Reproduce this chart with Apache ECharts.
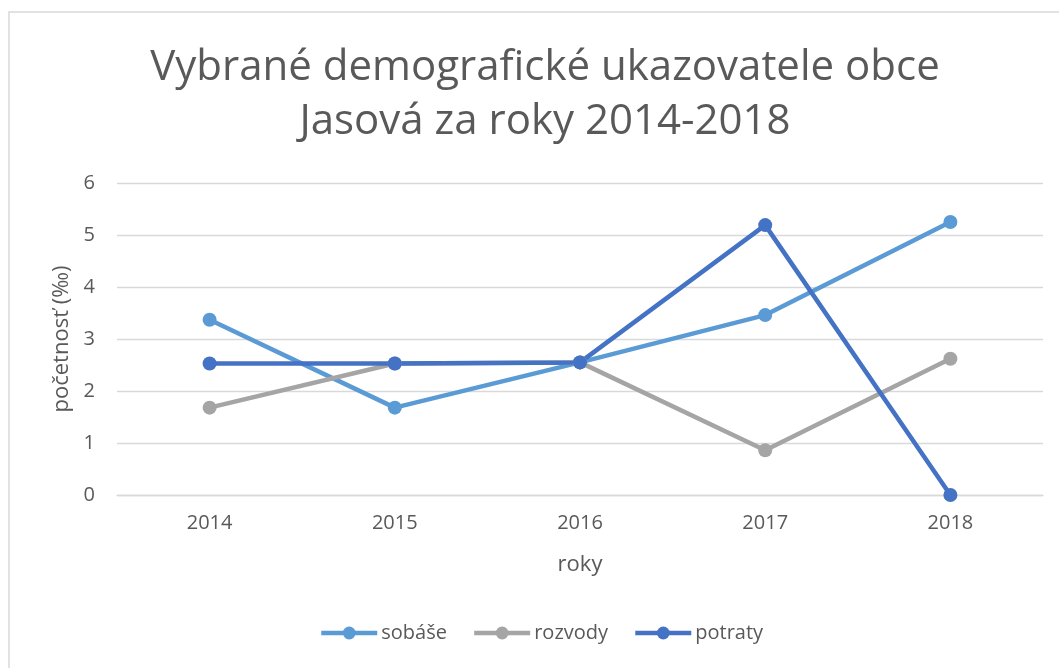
<!DOCTYPE html>
<html>
<head>
<meta charset="utf-8">
<script src="https://cdn.jsdelivr.net/npm/echarts@6/dist/echarts.min.js"></script>
<style>
  html, body { margin: 0; padding: 0; background: #fff; }
  #chart { width: 1059px; height: 668px; }
</style>
</head>
<body>
<div id="chart"></div>
<script>
// údaje odčítané z grafu
const years = ['2014', '2015', '2016', '2017', '2018']
const sobase = [3.37, 1.68, 2.55, 3.46, 5.25]
const rozvody = [1.68, 2.53, 2.55, 0.86, 2.62]
const potraty = [2.53, 2.53, 2.55, 5.19, 0]
const yTicks = [0, 1, 2, 3, 4, 5, 6]

const textColor = '#595959'
const font = "'Open Sans', 'Noto Sans', sans-serif"

const chart = echarts.init(document.getElementById('chart'))

const makeSeries = (name, data, color) => ({
  name,
  type: 'line',
  data,
  symbol: 'circle',
  symbolSize: 14,
  lineStyle: { width: 4.5, color },
  itemStyle: { color },
  emphasis: { disabled: true }
})

chart.setOption({
  animation: false,
  textStyle: { fontFamily: font },
  graphic: [
    {
      type: 'rect',
      shape: { x: 9, y: 12, width: 1100, height: 700 },
      style: { fill: 'none', stroke: '#d9d9d9', lineWidth: 1.5 },
      silent: true
    }
  ],
  title: {
    text: 'Vybrané demografické ukazovatele obce\nJasová za roky 2014-2018',
    left: 540,
    textAlign: 'center',
    top: 36,
    textStyle: {
      color: textColor,
      fontSize: 42,
      fontWeight: 'normal',
      fontFamily: font,
      lineHeight: 54
    }
  },
  legend: {
    bottom: 20,
    left: 314,
    itemWidth: 56,
    itemHeight: 16,
    itemGap: 25,
    lineStyle: { width: 4.5 },
    textStyle: { color: textColor, fontSize: 20, fontFamily: font, padding: [0, 0, 0, -1] },
    data: ['sobáše', 'rozvody', 'potraty']
  },
  grid: {
    left: 117,
    right: 16,
    top: 183,
    bottom: 173,
    containLabel: false
  },
  xAxis: {
    type: 'category',
    data: years,
    boundaryGap: true,
    name: 'roky',
    nameLocation: 'middle',
    nameGap: 59,
    nameTextStyle: { color: textColor, fontSize: 22, fontFamily: font },
    axisLine: { lineStyle: { color: '#d9d9d9', width: 1.3 } },
    axisTick: { show: false },
    axisLabel: { color: textColor, fontSize: 20, margin: 18, fontFamily: font }
  },
  yAxis: {
    type: 'value',
    min: yTicks[0],
    max: yTicks[yTicks.length - 1],
    interval: 1,
    name: 'početnosť (‰)',
    nameLocation: 'middle',
    nameGap: 43,
    nameTextStyle: { color: textColor, fontSize: 22, fontFamily: font },
    axisLine: { show: false },
    axisTick: { show: false },
    axisLabel: { color: textColor, fontSize: 20, margin: 22, fontFamily: font },
    splitLine: { lineStyle: { color: '#d9d9d9', width: 1.3 } }
  },
  series: [
    makeSeries('sobáše', sobase, '#5b9bd5'),
    makeSeries('rozvody', rozvody, '#a5a5a5'),
    makeSeries('potraty', potraty, '#4472c4')
  ]
})
</script>
</body>
</html>
